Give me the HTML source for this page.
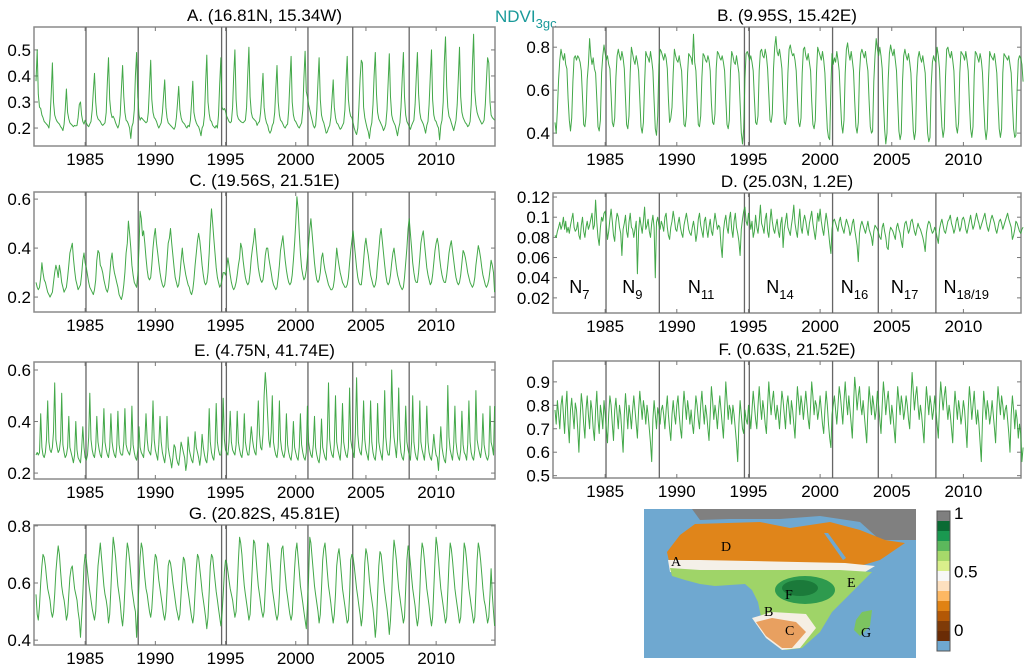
<!DOCTYPE html>
<html><head><meta charset="utf-8"><title>NDVI3gc time series</title>
<style>
html,body{margin:0;padding:0;background:#fff;}
svg{display:block;font-family:"Liberation Sans",sans-serif;}
</style></head>
<body>
<svg id="fig" width="1024" height="665" viewBox="0 0 1024 665" xmlns="http://www.w3.org/2000/svg">
<text x="495" y="22" font-size="17" fill="#1a9a9a">NDVI<tspan font-size="13" dy="6">3gc</tspan></text>
<g id="panels"></g>
<g id="map">
  <rect x="644" y="509" width="272" height="149" fill="#6fa8d0"/>
  <polygon points="692,509 916,509 916,540 880,540 860,522 820,516 780,519 730,519 700,520" fill="#808080"/>
  <polygon points="667,552 680,535 695,524 760,522 790,528 830,522 860,530 885,540 905,543 880,560 860,566 845,572 700,567 670,566" fill="#e0851a"/>
  <polygon points="668,560 700,560 845,563 875,566 860,575 700,575 670,572" fill="#f4f0e8"/>
  <polygon points="670,568 700,570 840,570 872,572 852,592 832,612 820,632 802,648 786,650 772,640 762,622 758,602 752,590 745,584 715,586 700,584 685,580 672,576" fill="#9fd468"/>
  <ellipse cx="805" cy="590" rx="30" ry="14" fill="#2e9a4e"/>
  <ellipse cx="800" cy="588" rx="18" ry="8" fill="#1b7a3a"/>
  <polygon points="752,618 772,612 806,614 816,628 800,648 782,650 766,638" fill="#f5efe4"/>
  <polygon points="756,622 772,618 796,622 806,632 792,648 782,648 766,636" fill="#e8a060"/>
  <polygon points="862,612 872,610 870,626 860,636 854,630 856,620" fill="#7cc460"/>
  <polygon points="824,533 828,533 846,558 843,560" fill="#6fa8d0"/>
  <g font-family="Liberation Serif,serif" font-size="14" fill="#000">
    <text x="671" y="566">A</text>
    <text x="721" y="551">D</text>
    <text x="785" y="599">F</text>
    <text x="847" y="587">E</text>
    <text x="764" y="616">B</text>
    <text x="785" y="635">C</text>
    <text x="861" y="637">G</text>
  </g>
</g>
<g id="cbar"></g>
</svg>
<script>
const NS="http://www.w3.org/2000/svg";
// ---- data (values ×1000), monthly from Jul 1981 to Mar 2014 ----
const startYear=1981.5;
const seriesA=[380,500,330,280,275,250,
240,225,220,215,210,200,235,330,450,300,250,235,
225,220,215,205,200,190,215,270,350,260,235,220,
215,210,205,210,208,210,240,290,300,250,225,215,
230,220,210,205,215,225,270,340,410,300,250,235,
230,225,215,210,215,220,260,380,470,310,260,240,
245,235,220,210,200,215,250,350,440,320,260,230,
225,215,200,160,205,220,270,400,490,320,250,230,
240,235,230,225,220,225,260,360,460,310,260,240,
235,225,210,200,210,220,260,320,385,280,240,220,
215,210,205,200,195,205,240,300,360,270,240,225,
220,215,205,200,210,205,230,300,380,260,235,220,
210,205,190,170,200,210,250,370,480,300,255,230,
225,210,205,200,210,200,250,370,470,280,270,275,
265,245,235,225,220,225,280,400,500,310,250,235,
230,225,222,220,225,230,280,410,510,320,260,240,
235,230,225,210,220,225,260,330,410,280,240,220,
210,190,180,190,210,220,260,350,440,300,250,230,
225,215,205,200,210,215,270,380,475,300,250,230,
225,215,205,200,210,220,270,390,495,340,320,290,
270,250,230,210,200,210,270,380,470,310,250,230,
220,200,180,185,200,210,240,310,385,280,240,220,
215,205,195,200,210,220,270,380,475,310,265,245,
240,220,200,185,175,200,280,390,460,450,280,240,
220,200,185,160,200,220,290,400,490,330,260,235,
225,215,205,190,200,215,270,380,485,320,250,230,
220,210,190,170,200,220,280,390,490,320,250,225,
215,205,195,210,220,230,290,390,490,330,260,235,
225,215,200,180,210,225,290,400,500,310,250,230,
225,210,200,155,210,230,300,450,550,360,280,245,
235,220,205,190,210,230,290,400,510,320,260,240,
230,220,215,205,210,225,290,440,560,340,290,260,
245,235,225,215,220,230,290,380,470,450,300,250,
240,235,230];
const seriesB=[450,400,510,650,740,790,
760,740,770,720,700,560,460,410,470,640,750,760,
740,760,750,730,690,570,440,430,480,650,720,840,
760,720,750,700,680,560,430,410,460,680,760,810,
770,740,760,720,700,580,450,430,470,660,760,790,
760,740,780,750,700,560,440,420,480,680,800,770,
740,720,760,730,690,560,430,400,450,630,780,760,
750,730,780,740,690,550,420,390,480,720,790,780,
760,740,770,750,700,560,450,470,520,680,790,760,
740,730,760,720,690,560,440,430,480,680,770,760,
750,720,860,730,690,560,440,430,480,660,770,760,
740,730,760,740,690,540,450,440,490,700,780,770,
750,740,760,730,690,560,440,420,460,690,780,760,
730,720,760,720,680,540,400,350,420,650,770,780,
760,740,760,730,690,560,450,440,480,690,780,790,
760,750,790,760,700,580,460,450,490,700,800,850,
780,760,790,750,700,560,450,440,480,680,790,810,
780,760,770,740,690,560,450,430,470,680,790,800,
760,740,770,730,690,550,440,420,460,680,800,780,
760,740,780,740,680,540,420,380,370,620,770,720,
750,730,780,740,690,560,440,400,460,680,790,820,
770,740,780,740,690,550,430,400,450,680,770,790,
770,750,780,730,690,550,430,400,410,640,760,840,
790,760,800,760,700,550,420,350,400,650,770,810,
780,760,790,740,690,550,410,370,400,640,760,790,
760,740,770,730,680,540,410,370,410,660,750,780,
750,730,760,720,680,530,400,360,380,620,730,760,
740,730,800,760,700,550,430,380,420,660,790,800,
770,750,780,740,690,550,430,400,450,680,780,770,
760,740,780,740,690,540,420,380,430,670,780,770,
750,730,770,740,680,540,420,370,420,650,780,760,
750,740,770,730,680,540,420,380,420,680,770,760,
750,740,760,720,680,540,420,380,390,600,740,760,
750,720,640];
const seriesC=[260,240,230,240,280,340,
300,270,260,240,220,210,200,210,220,260,300,330,
310,280,330,300,260,240,220,230,240,280,330,380,
400,420,360,310,270,250,230,240,250,290,350,380,
340,320,290,260,240,230,220,210,230,270,350,390,
380,330,320,300,270,250,230,220,240,290,350,380,
330,300,280,260,240,210,200,190,210,250,300,380,
420,510,460,400,330,290,260,250,240,290,400,550,
520,450,470,420,360,310,280,270,280,330,400,450,
480,420,380,340,300,270,250,240,250,290,350,420,
440,480,420,370,320,280,260,240,250,290,350,400,
350,320,290,270,250,240,220,210,230,270,330,380,
430,460,430,380,330,290,260,250,260,300,380,480,
560,500,440,380,320,280,260,240,250,270,300,300,
290,320,360,330,290,260,240,230,240,260,290,330,
360,420,400,350,310,280,260,250,260,300,360,400,
430,480,420,370,320,290,270,260,270,310,370,400,
400,360,330,300,270,250,240,230,240,280,330,390,
420,450,400,350,310,280,260,250,260,290,350,420,
500,610,560,460,380,320,290,270,280,310,360,420,
480,520,460,400,340,300,270,260,270,300,360,380,
340,310,290,270,250,240,230,230,240,270,330,400,
360,330,300,280,260,250,240,240,250,280,340,390,
430,470,420,370,320,280,260,250,250,290,350,410,
440,400,370,330,290,270,250,240,250,280,340,390,
450,480,430,380,330,290,260,250,260,290,340,380,
400,360,320,290,270,250,240,230,240,280,340,400,
480,520,460,400,340,300,270,260,260,300,360,420,
450,470,420,370,320,290,270,250,260,290,340,390,
420,440,410,360,320,290,270,260,260,290,330,380,
410,430,390,350,310,280,260,250,260,290,340,390,
380,360,330,300,280,260,250,240,250,280,330,370,
410,390,360,320,290,270,250,240,250,270,310,350,
330,300,220];
const seriesD=[82,80,86,90,95,88,
92,100,88,96,85,90,84,92,98,104,90,86,
88,95,82,78,92,100,86,80,90,96,88,92,
98,104,88,92,117,95,80,72,90,100,96,104,
106,92,78,86,98,108,96,82,76,95,104,100,
90,84,62,88,94,102,86,80,95,104,90,88,
80,88,96,44,86,100,92,84,96,110,88,92,
98,86,80,94,102,90,40,95,100,92,88,96,
92,86,100,104,90,82,78,90,96,106,98,88,
86,94,100,90,84,80,92,98,104,96,88,84,
82,90,96,88,76,84,98,104,92,86,80,96,
100,88,80,90,98,86,82,94,104,96,88,92,
90,72,60,86,96,102,90,84,98,105,88,80,
96,104,90,84,76,62,88,98,106,110,96,92,
104,98,88,96,80,86,102,90,84,96,112,94,
90,84,98,104,86,80,96,108,96,88,84,92,
98,86,80,94,100,70,88,96,104,90,86,82,
92,100,112,94,86,80,96,108,90,84,96,102,
96,88,82,94,100,106,94,86,78,90,104,96,
108,96,88,82,94,104,96,86,74,64,88,96,
98,94,90,86,96,100,92,88,84,92,98,94,
90,82,86,94,98,88,80,72,56,84,92,96,
92,88,84,90,96,88,84,80,72,86,92,90,
88,84,80,78,90,94,86,80,70,68,84,90,
88,86,82,78,90,94,88,84,76,70,86,94,
96,90,84,88,96,98,92,86,82,88,94,90,
88,84,80,74,66,84,92,96,94,88,84,86,
90,86,80,74,88,94,98,92,86,84,90,96,
98,102,94,90,84,88,96,100,92,86,90,98,
100,96,88,84,90,96,102,94,88,92,98,104,
98,94,88,92,96,100,104,96,90,86,92,98,
102,98,94,88,84,90,96,98,94,88,92,96,
100,104,98,94,90,78,82,88,96,94,90,86,
84,88,90];
const seriesE=[270,280,270,280,430,300,
270,260,280,330,480,320,290,280,300,360,550,330,
300,280,290,330,510,310,280,260,270,300,420,300,
280,260,240,270,400,290,260,250,240,290,380,300,
260,250,270,340,510,330,290,270,260,300,420,320,
290,270,260,320,450,320,290,270,260,300,430,320,
290,270,260,300,440,310,280,270,270,320,450,310,
290,280,270,300,460,310,280,260,250,290,380,300,
280,270,260,320,430,330,290,280,270,320,480,330,
290,270,250,310,420,320,280,260,240,280,420,300,
270,250,220,260,310,300,260,240,230,270,320,300,
280,260,210,240,340,290,270,250,240,280,360,300,
280,260,230,270,350,300,270,250,240,290,450,320,
280,260,250,300,470,320,290,270,270,310,490,330,
290,280,270,320,440,320,290,280,270,310,440,320,
290,270,260,300,430,320,290,270,270,320,380,330,
300,280,270,350,480,350,300,290,350,500,590,520,
420,330,300,360,500,320,290,270,260,300,480,330,
290,270,260,290,430,310,280,260,250,290,400,300,
280,260,250,300,430,310,280,260,250,280,460,320,
290,270,260,310,420,300,270,250,240,280,410,300,
280,260,250,340,550,330,290,270,260,310,500,320,
290,270,250,320,470,320,290,270,260,300,530,330,
300,280,260,360,570,350,300,280,270,330,480,330,
290,270,250,320,480,320,280,260,250,300,470,320,
290,270,250,340,520,340,290,270,270,340,600,420,
340,300,260,330,530,330,280,260,250,290,460,320,
290,270,250,320,500,320,280,260,250,300,480,320,
290,270,250,310,460,320,280,260,250,290,350,300,
270,260,210,290,380,300,270,250,240,300,540,340,
290,270,250,310,460,320,280,260,250,290,440,310,
280,270,250,310,480,320,280,260,250,290,520,330,
300,280,260,300,430,310,280,260,250,270,460,320,
300,270,460];
const seriesF=[780,720,820,760,700,800,
840,760,680,790,860,720,640,780,830,760,700,810,
780,700,600,740,850,800,720,660,780,840,760,700,
820,780,700,650,780,860,740,680,800,760,700,820,
760,700,640,760,840,800,720,650,780,830,760,700,
800,760,680,600,760,850,780,700,800,760,700,780,
840,780,720,660,780,860,800,740,820,780,720,800,
760,700,640,560,740,820,760,700,790,760,720,780,
800,760,700,780,840,760,700,650,760,820,760,720,
800,840,760,700,660,780,860,800,740,820,780,720,
780,720,680,760,840,800,740,700,800,860,780,720,
800,760,700,650,760,880,820,740,800,760,700,780,
840,780,720,660,780,900,820,740,800,780,720,800,
760,700,640,560,720,820,760,700,680,780,740,720,
800,760,700,780,860,800,740,700,800,880,800,740,
820,780,720,680,800,900,820,760,820,860,780,740,
800,760,700,780,860,820,760,700,800,840,780,720,
820,780,720,660,780,880,820,760,840,800,740,800,
860,800,740,700,800,900,840,760,820,800,740,780,
840,780,720,680,780,860,800,720,660,620,760,800,
840,780,720,800,880,840,780,720,820,900,820,760,
840,780,720,660,800,920,860,780,840,880,800,760,
820,760,700,640,780,880,820,760,840,800,740,780,
860,800,740,680,800,900,840,760,820,860,780,720,
800,760,700,640,780,880,820,760,840,800,740,780,
840,800,740,700,820,940,860,780,840,880,800,740,
800,760,700,640,780,880,820,760,840,800,740,780,
840,780,720,660,800,900,840,780,840,880,800,740,
800,760,700,640,780,860,800,740,820,780,720,760,
820,780,700,620,780,880,820,740,800,860,780,720,
780,720,640,560,740,860,800,740,820,780,720,760,
820,760,700,640,780,880,820,760,840,800,740,780,
800,740,680,600,760,840,780,700,780,740,660,720,
680,560,620];
const seriesG=[560,490,470,520,600,660,
700,690,660,620,580,560,540,500,480,500,560,640,
690,730,700,640,590,560,540,510,470,490,560,620,
650,660,620,580,560,540,500,470,410,480,560,660,
700,680,640,600,570,540,510,490,470,500,580,660,
700,740,690,640,590,560,540,510,460,490,580,680,
760,730,690,640,590,560,530,480,450,500,580,680,
740,720,680,630,580,550,520,500,410,500,600,690,
740,720,670,620,580,560,530,500,480,510,580,660,
700,690,650,610,580,550,520,490,470,500,570,660,
680,670,640,600,570,540,510,490,470,490,560,640,
690,680,640,600,570,540,510,480,460,490,570,650,
700,690,650,610,570,540,510,480,440,480,570,660,
700,690,650,610,570,540,510,480,450,490,560,640,
680,670,640,610,580,560,540,510,480,500,580,680,
760,740,700,640,590,560,530,500,470,490,580,670,
750,740,690,640,590,560,530,500,480,500,580,660,
740,730,680,630,580,550,520,490,470,490,560,660,
720,730,680,630,580,550,520,490,470,490,570,650,
710,740,690,640,590,560,530,500,470,440,520,620,
760,740,690,640,590,560,530,500,460,490,580,680,
720,740,690,640,590,560,530,490,460,490,560,660,
700,720,680,630,580,550,520,490,460,470,560,680,
700,690,660,620,580,550,520,490,450,480,560,670,
720,700,660,610,570,540,510,470,410,460,560,660,
710,700,660,610,570,540,510,470,420,470,560,680,
750,720,680,630,580,550,520,490,460,480,580,680,
730,710,670,620,580,550,520,480,450,480,570,680,
740,720,680,630,580,550,520,480,450,480,580,680,
760,730,680,630,580,550,520,490,460,480,570,670,
740,720,680,630,580,550,520,490,460,480,570,660,
740,720,680,630,580,550,520,490,460,480,570,680,
740,720,680,630,580,540,520,490,460,480,560,650,
560,500,450];
const xTickYears=[1985,1990,1995,2000,2005,2010];
const sensorBreaks=[1985.06,1988.78,1994.72,1995.06,2000.87,2004.06,2008.08];
const ticksA=[0.2,0.3,0.4,0.5], ticksB=[0.4,0.6,0.8], ticksC=[0.2,0.4,0.6];
const ticksD=[0.02,0.04,0.06,0.08,0.1,0.12], ticksE=[0.2,0.4,0.6];
const ticksF=[0.5,0.6,0.7,0.8,0.9], ticksG=[0.4,0.6,0.8];
const sensorNames=[["7",1983.2],["9",1986.9],["11",1991.7],["14",1997.2],["16",2002.4],["17",2005.9],["18/19",2010.2]];
const cbarColors=["#7f7f7f","#0b6b34","#1a9850","#5cb85c","#a6d96a","#d9ef8b","#f7f7f7","#fde0bf","#fdb863","#e08214","#b35806","#7f3b08","#6a2c06","#6fa8d0"];
const cbarLabels=[["1",0],["0.5",0.5],["0",1]];

const panels=[
 {name:"a",title:"A. (16.81N, 15.34W)",data:seriesA,ticks:ticksA,ymin:0.131,ymax:0.588,x0:34,x1:495,y0:27,y1:146,col:0},
 {name:"b",title:"B. (9.95S, 15.42E)",data:seriesB,ticks:ticksB,ymin:0.34,ymax:0.894,x0:553,x1:1021,y0:27,y1:146,col:1},
 {name:"c",title:"C. (19.56S, 21.51E)",data:seriesC,ticks:ticksC,ymin:0.139,ymax:0.629,x0:34,x1:495,y0:192,y1:312,col:0},
 {name:"d",title:"D. (25.03N, 1.2E)",data:seriesD,ticks:ticksD,ymin:0.005,ymax:0.124,x0:553,x1:1021,y0:193,y1:313,col:1},
 {name:"e",title:"E. (4.75N, 41.74E)",data:seriesE,ticks:ticksE,ymin:0.177,ymax:0.631,x0:34,x1:495,y0:362,y1:479,col:0},
 {name:"f",title:"F. (0.63S, 21.52E)",data:seriesF,ticks:ticksF,ymin:0.49,ymax:0.989,x0:553,x1:1021,y0:361,y1:478,col:1},
 {name:"g",title:"G. (20.82S, 45.81E)",data:seriesG,ticks:ticksG,ymin:0.383,ymax:0.803,x0:34,x1:495,y0:525,y1:645,col:0}
];
function mk(tag,attrs,parent){const e=document.createElementNS(NS,tag);for(const k in attrs)e.setAttribute(k,attrs[k]);parent.appendChild(e);return e;}
const root=document.getElementById("panels");
panels.forEach(p=>{
  const xs= p.col===0 ? (t=>36+(t-1981.5)*14.04) : (t=>555+(t-1981.5)*14.33);
  const ys= v=>p.y1-(v-p.ymin)/(p.ymax-p.ymin)*(p.y1-p.y0);
  const g=mk("g",{},root);
  
  
  const t=mk("text",{x:(p.x0+p.x1)/2,y:p.y0-6,"text-anchor":"middle","font-size":"17",fill:"#000"},g);
  t.textContent=p.title;
  
  
  const bx=mk("rect",{x:p.x0,y:p.y0,width:p.x1-p.x0,height:p.y1-p.y0,fill:"#fff",stroke:"#8a8a8a","stroke-width":"1.5"},g);
  
  
  sensorBreaks.forEach(b=>{
    const l=mk("line",{x1:xs(b),x2:xs(b),y1:p.y0,y2:p.y1,stroke:"#666","stroke-width":"1.3"},g);
    
    
  });
  xTickYears.forEach(yr=>{
    const x=xs(yr);
    mk("line",{x1:x,x2:x,y1:p.y1,y2:p.y1-4,stroke:"#777"},g);
    mk("line",{x1:x,x2:x,y1:p.y0,y2:p.y0+4,stroke:"#777"},g);
    const tl=mk("text",{x:x,y:p.y1+19,"text-anchor":"middle","font-size":"17",fill:"#000"},g);
    tl.textContent=yr;
    
    
  });
  p.ticks.forEach(v=>{
    const y=ys(v);
    mk("line",{x1:p.x0,x2:p.x0+4,y1:y,y2:y,stroke:"#777"},g);
    mk("line",{x1:p.x1,x2:p.x1-4,y1:y,y2:y,stroke:"#777"},g);
    const tl=mk("text",{x:p.x0-3,y:y+6,"text-anchor":"end","font-size":"17",fill:"#000"},g);
    tl.textContent=String(v);
    
    
  });
  const pts=p.data.map((v,i)=>xs(startYear+i/12).toFixed(1)+","+ys(v/1000).toFixed(1)).join(" ");
  const pl=mk("polyline",{points:pts,fill:"none",stroke:"#2f9e35","stroke-width":"1","stroke-linejoin":"round","stroke-opacity":"0.9"},g);
  
  
  if(p.name==="d"){
    sensorNames.forEach(s=>{
      const tx=mk("text",{x:xs(s[1]),y:ys(0.025),"text-anchor":"middle","font-size":"18",fill:"#000"},g);
      tx.textContent="N";
      const sub=mk("tspan",{"font-size":"13",dy:"6"},tx);
      sub.textContent=s[0];
      
      
    });
  }
});
const cb=document.getElementById("cbar");
const cbX=937,cbY=511,cbH=140,cbW=13;
cbarColors.forEach((c,i)=>{
  const r=mk("rect",{x:cbX,y:cbY+i*cbH/cbarColors.length,width:cbW,height:cbH/cbarColors.length+0.5,fill:c},cb);
  
  
});
const cbf=mk("rect",{x:cbX,y:cbY,width:cbW,height:cbH,fill:"none",stroke:"#555","stroke-width":"1"},cb);


cbarLabels.forEach(l=>{
  const y=cbY+5+l[1]*117;
  const t=mk("text",{x:cbX+cbW+4,y:y+3,"font-size":"17",fill:"#000"},cb);
  t.textContent=l[0];
  
  
});
</script>
</body></html>
